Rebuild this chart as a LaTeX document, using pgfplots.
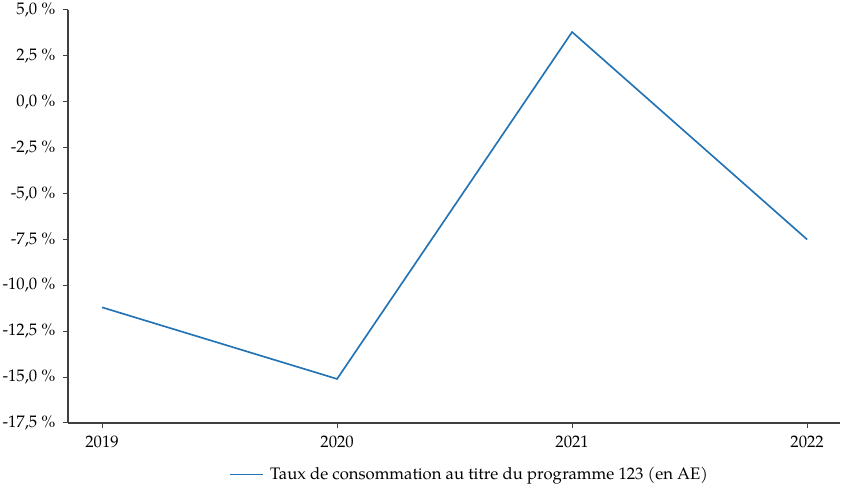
\documentclass[border=0pt]{standalone}
\usepackage{fontspec}
\setmainfont{TeX Gyre Pagella}
\usepackage{pgfplots}
\pgfplotsset{compat=1.18}
\definecolor{lineblue}{HTML}{2474B5}
\begin{document}
\begin{tikzpicture}
\begin{axis}[
  name=ax,
  scale only axis,
  width=463.2pt, height=247.8pt,
  xmin=2018.855, xmax=2022.14,
  ymin=-17.5, ymax=5,
  axis x line*=bottom, axis y line*=left,
  axis line style={black!75, line width=0.7pt, -},
  xtick={2019,2020,2021,2022},
  xticklabels={2019,2020,2021,2022},
  ytick={-17.5,-15,-12.5,-10,-7.5,-5,-2.5,0,2.5,5},
  yticklabels={{-17,5 \%},{-15,0 \%},{-12,5 \%},{-10,0 \%},{-7,5 \%},{-5,0 \%},{-2,5 \%},{0,0 \%},{2,5 \%},{5,0 \%}},
  tick style={black!75, line width=0.6pt},
  tick align=outside,
  major tick length=3pt,
  ticklabel style={font=\fontsize{10}{12}\selectfont, text=black},
  yticklabel style={xshift=-1pt},
  xticklabel style={yshift=-1pt},
  legend style={draw=none, fill=none, at={(0.521,-0.125)}, anchor=center,
    font=\fontsize{10}{12}\selectfont, legend cell align=left},
  legend image code/.code={\draw[#1] (0pt,0pt) -- (19.5pt,0pt);},
]
\addplot[color=lineblue, line width=1pt] coordinates {
  (2019,-11.2) (2020,-15.1) (2021,3.8) (2022,-7.5)
};
\addlegendentry{\hspace{2pt}Taux de consommation au titre du programme 123 (en AE)}
\end{axis}
\pgfresetboundingbox
\path ([xshift=-40.8pt,yshift=-43.2pt]ax.south west) rectangle ([xshift=6pt,yshift=6pt]ax.north east);
\end{tikzpicture}
\end{document}
